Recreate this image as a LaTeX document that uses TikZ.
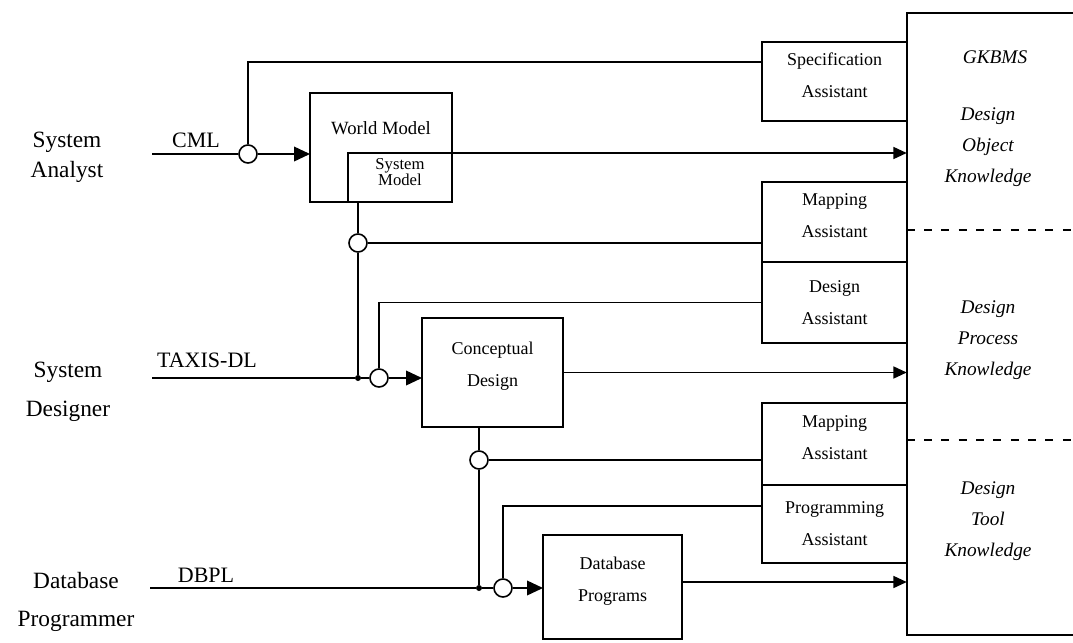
\documentclass[tikz,border=0pt]{standalone}
\usepackage{fontspec}
\setmainfont{Liberation Serif}
\usetikzlibrary{calc,arrows.meta,fit,positioning}

\begin{document}
\begin{tikzpicture}[x=0.75pt,y=-0.75pt,
        box/.style={draw,line width=1.4pt,rectangle,inner sep=0pt,outer sep=0pt,align=center,font=\fontsize{13.5}{24}\selectfont},
        junction/.style={circle,draw,line width=1.2pt,fill=white,minimum size=13.5pt,inner sep=0pt},
        dot/.style={circle,fill,inner sep=0pt,minimum size=4.5pt},
        actor/.style={align=center,font=\fontsize{17.5}{22.5}\selectfont},
        lang/.style={font=\fontsize{16.5}{20}\selectfont},
        kbtext/.style={align=center,font=\fontsize{14.5}{23}\selectfont\itshape},
        line/.style={line width=1.2pt},
        bigflow/.style={-{Triangle[length=12pt,width=11pt]}},
        flow/.style={-{Triangle[length=10pt,width=9pt]}},
        divider/.style={line width=1.2pt,dash pattern=on 6pt off 7pt}]
    \useasboundingbox (0,0) rectangle (1073,642);

    %actors
    \node[actor] (analyst) at (67,157) {System\\Analyst};
    \node[actor] (designer) at (68,392) {System\\[7pt]Designer};
    \node[actor] (programmer) at (76,602) {Database\\[6pt]Programmer};

    %languages
    \node[lang] (cml) at (196,140) {CML};
    \node[lang] (taxis) at (207,360) {TAXIS-DL};
    \node[lang] (dbpl) at (206,575) {DBPL};
    \coordinate (sain) at (152,154);
    \coordinate (sdin) at (152,378);
    \coordinate (dpin) at (150,588);

    %models
    \node[box,fit={(310,93)(452,202)}] (world) {};
    \node[font=\fontsize{14}{16}\selectfont] (worldtext) at ($(world.north)+(0,35)$) {World Model};
    \node[box,fit={(348,153)(452,202)},font=\fontsize{12.5}{12.5}\selectfont] (sysmodel) {System\\Model};
    \node[box,fit={(422,318)(563,427)}] (concept) {Conceptual\\Design};
    \node[box,fit={(543,535)(682,639)}] (dbprog) {Database\\Programs};

    %assistants
    \node[box,fit={(762,42)(907,121)}] (spec) {Specification\\Assistant};
    \node[box,fit={(762,182)(907,262)}] (map1) {Mapping\\Assistant};
    \node[box,minimum width=108.75pt,minimum height=60.75pt,below=0pt of map1] (dassist) {Design\\Assistant};
    \node[box,fit={(762,403)(907,485)}] (map2) {Mapping\\Assistant};
    \node[box,minimum width=108.75pt,minimum height=58.5pt,below=0pt of map2] (progassist) {Programming\\Assistant};

    %knowledge base
    \node[fit={(907,13)(1073,635)},inner sep=0pt] (kb) {};
    \draw[line width=1.4pt] (kb.north east) -- (kb.north west) -- (kb.south west) -- (kb.south east);
    \draw[divider] ($(kb.north west)!.349!(kb.south west)$) -- ($(kb.north east)!.349!(kb.south east)$);
    \draw[divider] ($(kb.north west)!.6865!(kb.south west)$) -- ($(kb.north east)!.6865!(kb.south east)$);
    \node[kbtext] (gkbms) at (995,57) {GKBMS};
    \node[kbtext] (objk) at (988,147) {Design\\Object\\Knowledge};
    \node[kbtext] (prock) at (988,340) {Design\\Process\\Knowledge};
    \node[kbtext] (toolk) at (988,521) {Design\\Tool\\Knowledge};

    %junctions
    \node[dot] (d1) at (358,378) {};
    \node[dot] (d2) at (479,588) {};
    \node[junction] (c1) at (248,154) {};
    \node[junction] (c2) at (358,243) {};
    \node[junction] (c3) at (379,378) {};
    \node[junction] (c4) at (479,460) {};
    \node[junction] (c5) at (503,588) {};

    %analyst level
    \draw[line] (sain) -- (c1);
    \draw[line,bigflow] (c1) -- (c1 -| world.west);
    \draw[line] ($(spec.north west)!.25!(spec.south west)$) -| (c1);
    \draw[line,flow] (world.east |- sysmodel.north) -- (kb.west |- sysmodel.north);

    %designer level
    \draw[line] (c2 |- sysmodel.south) -- (c2);
    \draw[line] (c2) -- (d1);
    \draw[line] (map1.west |- c2) -- (c2);
    \draw[line] (dassist.west) -| (c3);
    \draw[line] (sdin) -- (d1) -- (c3);
    \draw[line,bigflow] (c3) -- (c3 -| concept.west);
    \draw[line,flow] (concept.east) -- (concept.east -| kb.west);

    %programmer level
    \draw[line] (c4 |- concept.south) -- (c4);
    \draw[line] (c4) -- (d2);
    \draw[line] (map2.west |- c4) -- (c4);
    \draw[line] ($(progassist.north west)!.27!(progassist.south west)$) -| (c5);
    \draw[line] (dpin) -- (d2) -- (c5);
    \draw[line,bigflow] (c5) -- (c5 -| dbprog.west);
    \draw[line,flow] ([yshift=3.75pt]dbprog.east) -- ([yshift=3.75pt]dbprog.east -| kb.west);
\end{tikzpicture}
\end{document}
